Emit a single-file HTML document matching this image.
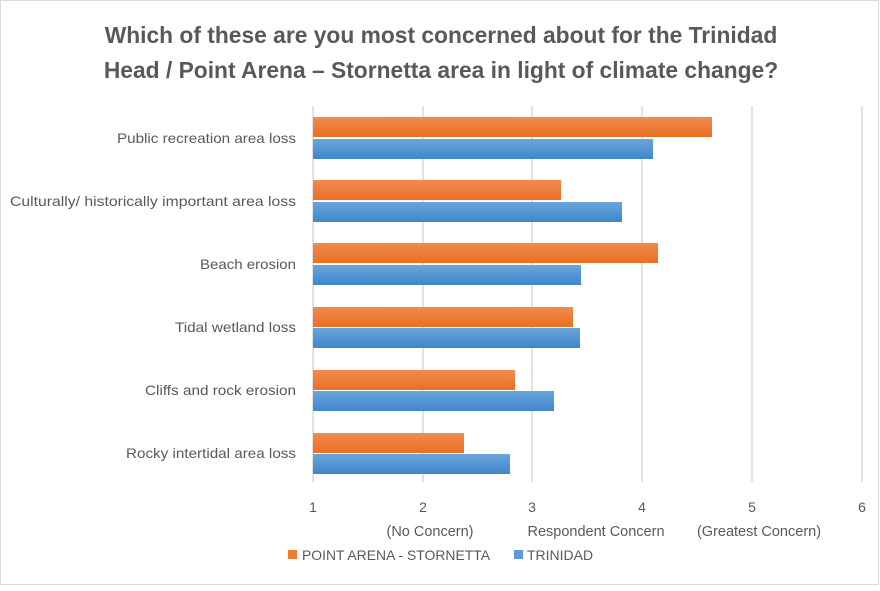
<!DOCTYPE html>
<html><head><style>
body{margin:0;background:#fff}
svg text{font-family:"Liberation Sans",sans-serif;fill:#595959}
</style></head><body>
<svg width="880" height="586" viewBox="0 0 880 586">
<defs>
<linearGradient id="o" x1="0" y1="0" x2="0" y2="1"><stop offset="0" stop-color="#f28b4e"/><stop offset="1" stop-color="#ea6f22"/></linearGradient>
<linearGradient id="b" x1="0" y1="0" x2="0" y2="1"><stop offset="0" stop-color="#6aa5db"/><stop offset="1" stop-color="#3f86cb"/></linearGradient>
</defs>
<rect x="0.5" y="0.5" width="878" height="584" fill="#fff" stroke="#d9d9d9"/>
<text x="441" y="43" text-anchor="middle" font-size="22.8" font-weight="bold">Which of these are you most concerned about for the Trinidad</text>
<text x="441" y="78" text-anchor="middle" font-size="22.8" font-weight="bold">Head / Point Arena – Stornetta area in light of climate change?</text>
<g stroke="#d9d9d9" stroke-width="1.5">
<line x1="423" y1="106" x2="423" y2="482"/><line x1="532" y1="106" x2="532" y2="482"/><line x1="642" y1="106" x2="642" y2="482"/><line x1="752" y1="106" x2="752" y2="482"/><line x1="862" y1="106" x2="862" y2="482"/>
<line x1="313" y1="106" x2="313" y2="482"/>
</g>
<g>
<rect x="313" y="117" width="399" height="20" fill="url(#o)"/><rect x="313" y="139" width="340" height="20" fill="url(#b)"/>
<rect x="313" y="180" width="248" height="20" fill="url(#o)"/><rect x="313" y="202" width="309" height="20" fill="url(#b)"/>
<rect x="313" y="243" width="345" height="20" fill="url(#o)"/><rect x="313" y="265" width="268" height="20" fill="url(#b)"/>
<rect x="313" y="307" width="260" height="20" fill="url(#o)"/><rect x="313" y="328" width="267" height="20" fill="url(#b)"/>
<rect x="313" y="370" width="202" height="20" fill="url(#o)"/><rect x="313" y="391" width="241" height="20" fill="url(#b)"/>
<rect x="313" y="433" width="151" height="20" fill="url(#o)"/><rect x="313" y="454" width="197" height="20" fill="url(#b)"/>
</g>
<g font-size="14" text-anchor="end" lengthAdjust="spacingAndGlyphs">
<text x="296" y="143" textLength="179" lengthAdjust="spacingAndGlyphs">Public recreation area loss</text>
<text x="296" y="206" textLength="286" lengthAdjust="spacingAndGlyphs">Culturally/ historically important area loss</text>
<text x="296" y="269" textLength="96" lengthAdjust="spacingAndGlyphs">Beach erosion</text>
<text x="296" y="332" textLength="121" lengthAdjust="spacingAndGlyphs">Tidal wetland loss</text>
<text x="296" y="395" textLength="151" lengthAdjust="spacingAndGlyphs">Cliffs and rock erosion</text>
<text x="296" y="458" textLength="170" lengthAdjust="spacingAndGlyphs">Rocky intertidal area loss</text>
</g>
<g font-size="14" text-anchor="middle">
<text x="313" y="512">1</text><text x="423" y="512">2</text><text x="532" y="512">3</text><text x="642" y="512">4</text><text x="752" y="512">5</text><text x="862" y="512">6</text>
<text x="430" y="536" font-size="14.5">(No Concern)</text>
<text x="596" y="536" font-size="14.5">Respondent Concern</text>
<text x="759" y="536" font-size="14.5">(Greatest Concern)</text>
</g>
<rect x="288" y="550" width="9" height="9" fill="#ed7d31"/>
<text x="302" y="560" font-size="14" textLength="188" lengthAdjust="spacingAndGlyphs">POINT ARENA - STORNETTA</text>
<rect x="514" y="550" width="9" height="9" fill="#5b9bd5"/>
<text x="527" y="560" font-size="14">TRINIDAD</text>
</svg>
</body></html>
